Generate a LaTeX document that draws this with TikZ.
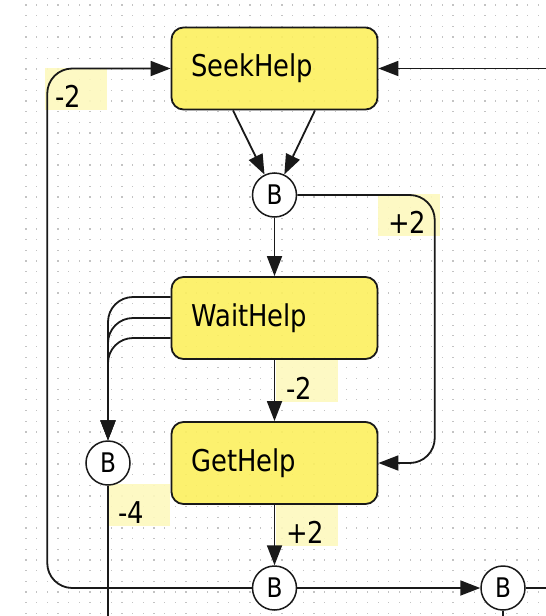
\documentclass[tikz,border=0pt]{standalone}
\usepackage{fontspec}
\newfontfamily\dfont[FakeStretch=0.86]{DejaVu Sans}
\usetikzlibrary{arrows.meta,calc}
\definecolor{boxy}{RGB}{252,240,95}
\definecolor{laby}{RGB}{253,249,190}
\definecolor{dotc}{RGB}{195,195,195}
\definecolor{ink}{RGB}{25,25,25}
\begin{document}
\begin{tikzpicture}[x=1pt,y=-1pt,
  state/.style={draw=ink, line width=1.8pt, fill=boxy, fill opacity=0.9, text opacity=1,
    rounded corners=12pt, minimum width=206pt, minimum height=82pt, text width=166pt,
    inner xsep=20pt, align=left, font=\dfont\fontsize{30}{32}\selectfont},
  bnode/.style={circle, draw=ink, line width=1.5pt, fill=white, minimum size=44pt,
    inner sep=0pt, font=\dfont\fontsize{27}{29}\selectfont},
  conn/.style={draw=ink, line width=1.8pt},
  arr/.style={conn, -{Triangle[length=20pt,width=15pt]}},
  lab/.style={fill=laby, fill opacity=0.9, text opacity=1, inner ysep=0pt, inner xsep=10pt,
    text width=42pt, align=left, text height=40pt, text depth=2pt,
    font=\dfont\fontsize{30}{32}\selectfont, anchor=south west}
]
\useasboundingbox (0,0) rectangle (546,616);
\fill[white] (0,0) rectangle (546,616);
% dotted grid
\foreach \i in {0,...,48} {
  \foreach \j in {0,...,57} {
    \fill[dotc] ({25.4+\i*10.67},{4.4+\j*10.67}) rectangle ++(1.3,1.3);
  }
}
% weight labels
\node[lab] (l1) at (45,110) {-2};
\node[lab] (l2) at (378,236) {+2};
\node[lab] (l3) at (276,402) {-2};
\node[lab] (l4) at (108,526) {-4};
\node[lab] (l5) at (276,546) {+2};
% states
\node[state] (seek) at (274.5,68.5) {SeekHelp};
\node[state] (wait) at (274.5,318) {WaitHelp};
\node[state] (get)  at (274.5,463) {GetHelp};
% branch points
\node[bnode] (b1) at (274.5,195) {B};
\node[bnode] (bl) at (108,463) {B};
\node[bnode] (bb) at (274.5,588) {B};
\node[bnode] (br) at (503,588) {B};
% free ends
\coordinate (rin) at (546,68.5);
\coordinate (rout) at (546,588);
\coordinate (bout) at (503,616);
\coordinate (blout) at (108,616);
% connectors
\draw[arr] (rin) -- (seek.east);
\draw[arr, rounded corners=25pt] (bb.west) -- ++(-204.5,0) |- (seek.west);
\draw[arr] ([xshift=-41.5pt]seek.south) -- (b1);
\draw[arr] ([xshift=40.5pt]seek.south) -- (b1);
\draw[arr] (b1) -- (wait);
\draw[arr, rounded corners=25pt] (b1.east) -- ++(137.5,0) |- (get.east);
\draw[arr] (wait) -- (get);
\foreach \dy in {-21,0,20} {
  \draw[arr, rounded corners=25pt] ($(wait.west)+(0,\dy)$) -| (bl.north);
}
\draw[conn] (bl) -- (blout);
\draw[arr] (get) -- (bb);
\draw[arr] (bb) -- (br);
\draw[conn] (br) -- (rout);
\draw[conn] (br) -- (bout);
\end{tikzpicture}
\end{document}
